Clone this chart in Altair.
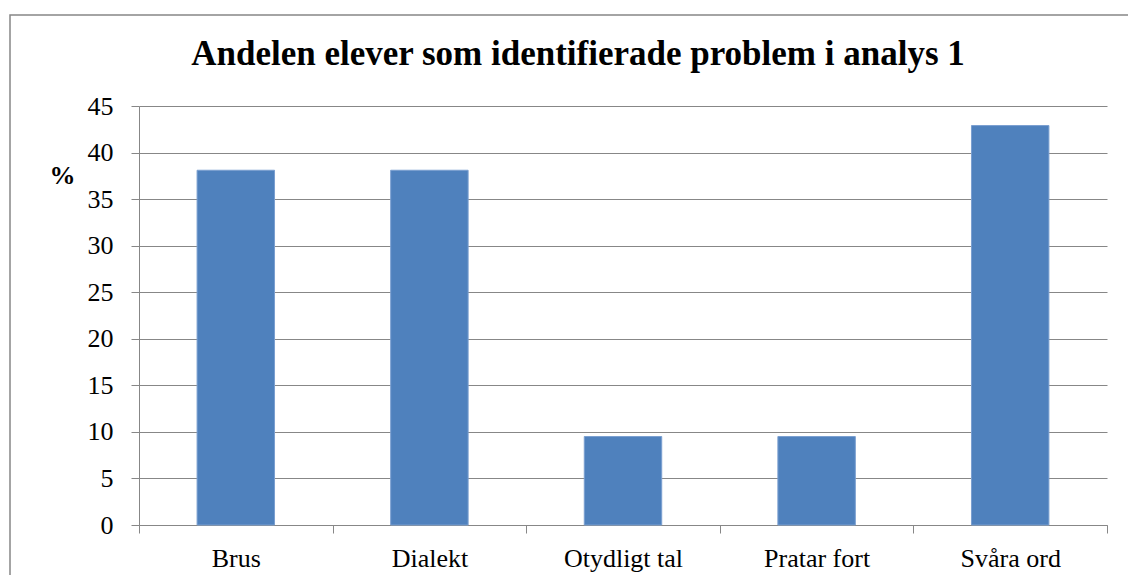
import altair as alt
import pandas as pd

categories = ["Brus", "Dialekt", "Otydligt tal", "Pratar fort", "Svåra ord"]
values = [38.1, 38.1, 9.5, 9.5, 42.9]
y_ticks = [0, 5, 10, 15, 20, 25, 30, 35, 40, 45]
title_text = "Andelen elever som identifierade problem i analys 1"

df = pd.DataFrame({"kategori": categories, "andel": values})

GREY = "#878787"
FONT = "Liberation Serif"

bars = alt.Chart(df).mark_bar(
    color="#4F81BD", stroke="#7A9FD0", strokeWidth=1,
    width=alt.RelativeBandSize(0.4)
).encode(
    x=alt.X("kategori:N", sort=categories,
            scale=alt.Scale(paddingInner=0, paddingOuter=0),
            axis=alt.Axis(title=None, labelAngle=0, tickBand="extent",
                          tickSize=8, tickColor=GREY, domainColor=GREY,
                          labelFont=FONT, labelFontSize=26, labelColor="black",
                          labelPadding=12, grid=False)),
    y=alt.Y("andel:Q", scale=alt.Scale(domain=[0, 45], nice=False),
            axis=alt.Axis(values=y_ticks, title="%", titleAngle=0,
                          titleFont=FONT, titleFontSize=26, titleFontWeight="bold",
                          titleColor="black", titleAlign="center",
                          titleBaseline="alphabetic", titleX=-77, titleY=77,
                          tickSize=8, tickColor=GREY, domainColor=GREY,
                          gridColor=GREY, gridWidth=1, grid=True,
                          labelFont=FONT, labelFontSize=26, labelColor="black",
                          labelPadding=18)),
)

frame = alt.Chart(pd.DataFrame({"f": [0]})).mark_rect(
    fill="white", fillOpacity=0, stroke=GREY, strokeWidth=1.5
).encode(
    x=alt.value(-129), x2=alt.value(1100),
    y=alt.value(-91), y2=alt.value(600),
)

chart = alt.layer(frame, bars).properties(
    width=968, height=419,
    padding={"left": 131, "top": 98, "right": 21, "bottom": 50},
    autosize=alt.AutoSizeParams(type="none"),
    title=alt.TitleParams(title_text, font=FONT, fontSize=35, fontWeight="bold",
                          color="black", anchor="middle", frame="group",
                          dx=-45, offset=-86, baseline="alphabetic"),
).configure_view(stroke=None)

chart.save("out.html", embed_options={"renderer": "svg", "actions": False})
